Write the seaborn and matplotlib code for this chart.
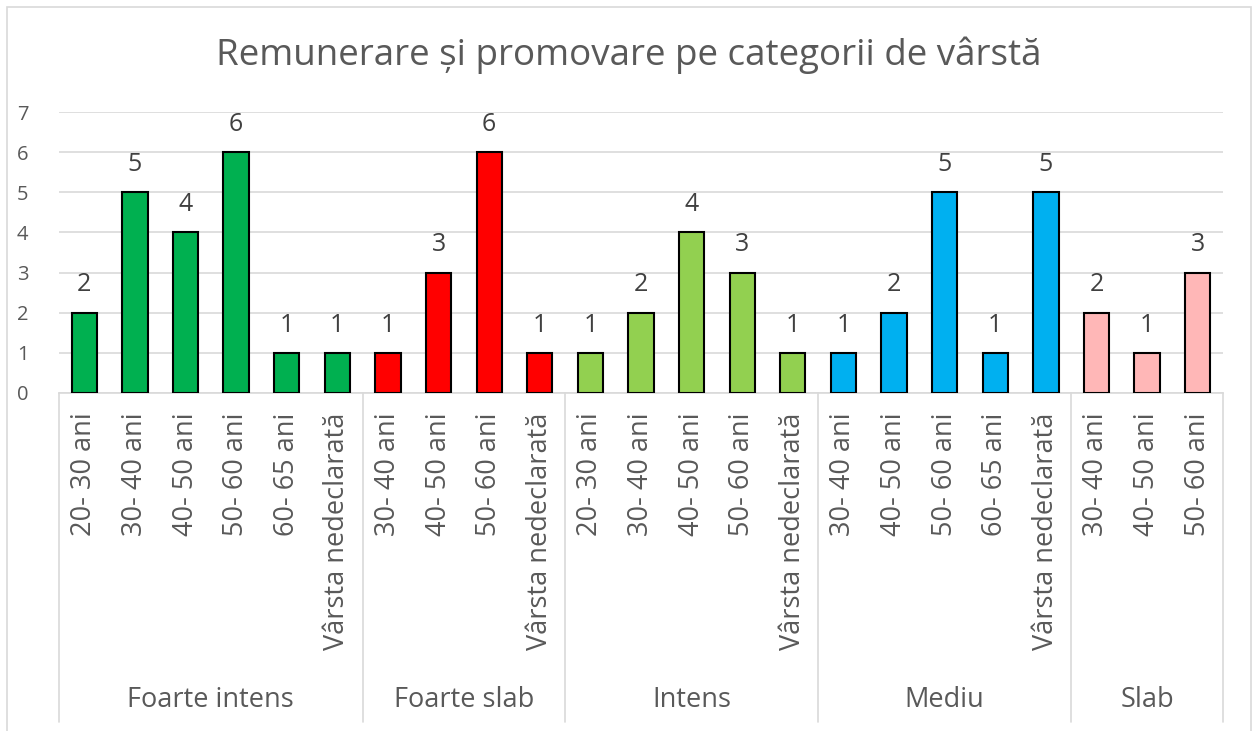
import matplotlib
matplotlib.use("Agg")
import matplotlib.pyplot as plt
import seaborn as sns
import pandas as pd
from matplotlib.patches import Rectangle
from matplotlib.transforms import blended_transform_factory

groups = ["Foarte intens", "Foarte slab", "Intens", "Mediu", "Slab"]
group_ages = [
    ["20- 30 ani", "30- 40 ani", "40- 50 ani", "50- 60 ani", "60- 65 ani", "Vârsta nedeclarată"],
    ["30- 40 ani", "40- 50 ani", "50- 60 ani", "Vârsta nedeclarată"],
    ["20- 30 ani", "30- 40 ani", "40- 50 ani", "50- 60 ani", "Vârsta nedeclarată"],
    ["30- 40 ani", "40- 50 ani", "50- 60 ani", "60- 65 ani", "Vârsta nedeclarată"],
    ["30- 40 ani", "40- 50 ani", "50- 60 ani"],
]
group_values = [
    [2, 5, 4, 6, 1, 1],
    [1, 3, 6, 1],
    [1, 2, 4, 3, 1],
    [1, 2, 5, 1, 5],
    [2, 1, 3],
]
group_colors = ["#00B050", "#FF0000", "#92D050", "#00B0F0", "#FFB7B7"]
title = "Remunerare și promovare pe categorii de vârstă"

rows = []
for g, ages, vals in zip(groups, group_ages, group_values):
    for a, v in zip(ages, vals):
        rows.append({"id": f"{g}|{a}", "age": a, "group": g, "value": v})
df = pd.DataFrame(rows)
order = list(df["id"])

sns.set_theme(style="white")
plt.rcParams["font.family"] = ["Open Sans", "DejaVu Sans"]
TXT = "#595959"
GRID = "#D9D9D9"

fig = plt.figure(figsize=(12.55, 7.31), dpi=100)
ax = fig.add_axes([59 / 1255, 1 - 393 / 731, (1223 - 59) / 1255, (393 - 112) / 731])

sns.barplot(data=df, x="id", y="value", hue="group", order=order, hue_order=groups,
            palette=dict(zip(groups, group_colors)), dodge=False, width=0.5, saturation=1,
            edgecolor="black", linewidth=1.5, legend=False, ax=ax, zorder=3)

ax.set_ylim(0, 7)
ax.set_yticks(range(0, 8))
ax.yaxis.grid(True, color=GRID, linewidth=1.2, zorder=0)
ax.set_axisbelow(True)
for s in ["top", "right", "left"]:
    ax.spines[s].set_visible(False)
ax.spines["bottom"].set_color(GRID)
ax.spines["bottom"].set_linewidth(1.2)
ax.set_xlabel("")
ax.set_ylabel("")
ax.tick_params(axis="y", length=0, pad=22, labelsize=14.5, labelcolor=TXT)
ax.set_xticks(range(len(order)))
ax.set_xticklabels(df["age"], rotation=90, fontsize=19.5, color=TXT)
ax.tick_params(axis="x", length=0, pad=14)

for c in ax.containers:
    ax.bar_label(c, padding=11, fontsize=18, color="#404040")

trans = blended_transform_factory(ax.transData, ax.transAxes)
start = 0
bottom_y = -(722 - 393) / (393 - 112)
label_y = -(700 - 393) / (393 - 112)
bounds = [start - 0.5]
for g, ages in zip(groups, group_ages):
    end = start + len(ages)
    ax.text((start + end - 1) / 2, label_y, g, transform=trans, ha="center", va="center",
            fontsize=19.5, color=TXT, clip_on=False)
    bounds.append(end - 0.5)
    start = end
for b in bounds:
    ax.plot([b, b], [0, bottom_y], transform=trans, color=GRID, linewidth=1.2, clip_on=False)
ax.set_xlim(-0.5, len(order) - 0.5)

fig.text(629 / 1255, 1 - 55 / 731, title, ha="center", va="center", fontsize=26.5, color=TXT)
fig.patches.append(Rectangle((7 / 1255, -0.05), (1251 - 7) / 1255, 1 - 7 / 731 + 0.05,
                             transform=fig.transFigure, fill=False, edgecolor=GRID, linewidth=1.2))

fig.savefig("out.png", dpi=100, facecolor="white")
